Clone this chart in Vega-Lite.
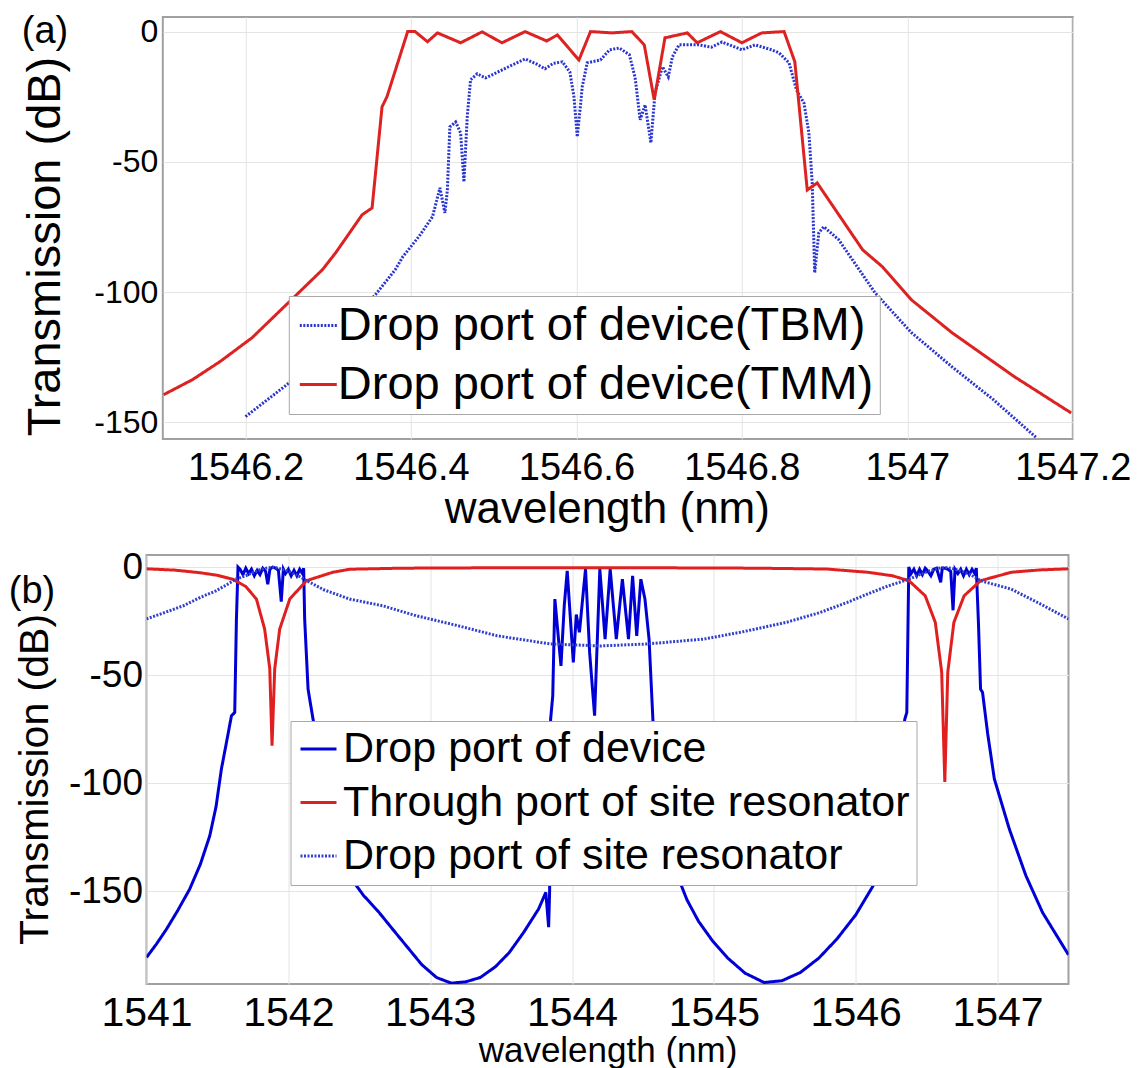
{
  "$schema": "https://vega.github.io/schema/vega-lite/v6.json",
  "background": "white",
  "padding": {"left": 7.5, "top": 11, "right": 0, "bottom": 0},
  "spacing": 15,
  "resolve": {"scale": {"color": "independent", "strokeDash": "independent"}},
  "config": {
    "font": "Liberation Sans",
    "view": {"stroke": "#a0a0a0", "strokeWidth": 2},
    "axis": {"domain": false, "ticks": false, "grid": true, "gridColor": "#e4e4e4", "gridWidth": 1, "labelColor": "#000000", "titleColor": "#000000", "titleFontWeight": "normal", "labelFlush": false, "labelOverlap": false, "labelFont": "Liberation Sans", "titleFont": "Liberation Sans"},
    "title": {"font": "Liberation Sans", "fontWeight": "normal", "color": "#000000", "anchor": "start", "frame": "group", "offset": 0},
    "legend": {"labelFont": "Liberation Sans", "labelColor": "#000000", "fillColor": "white", "strokeColor": "#a8a8a8", "symbolType": "stroke", "symbolStrokeWidth": 3, "labelLimit": 2000, "orient": "none"}
  },
  "datasets": {
    "a": [
      {"wavelength": 1546.200, "transmission": -147.8, "series": "Drop port of device(TBM)"},
      {"wavelength": 1546.253, "transmission": -134.8, "series": "Drop port of device(TBM)"},
      {"wavelength": 1546.300, "transmission": -119.5, "series": "Drop port of device(TBM)"},
      {"wavelength": 1546.357, "transmission": -101.0, "series": "Drop port of device(TBM)"},
      {"wavelength": 1546.381, "transmission": -91.4, "series": "Drop port of device(TBM)"},
      {"wavelength": 1546.390, "transmission": -86.5, "series": "Drop port of device(TBM)"},
      {"wavelength": 1546.410, "transmission": -78.5, "series": "Drop port of device(TBM)"},
      {"wavelength": 1546.426, "transmission": -71.1, "series": "Drop port of device(TBM)"},
      {"wavelength": 1546.435, "transmission": -60.0, "series": "Drop port of device(TBM)"},
      {"wavelength": 1546.441, "transmission": -69.6, "series": "Drop port of device(TBM)"},
      {"wavelength": 1546.444, "transmission": -60.8, "series": "Drop port of device(TBM)"},
      {"wavelength": 1546.447, "transmission": -36.6, "series": "Drop port of device(TBM)"},
      {"wavelength": 1546.454, "transmission": -34.7, "series": "Drop port of device(TBM)"},
      {"wavelength": 1546.460, "transmission": -38.9, "series": "Drop port of device(TBM)"},
      {"wavelength": 1546.464, "transmission": -57.7, "series": "Drop port of device(TBM)"},
      {"wavelength": 1546.468, "transmission": -32.7, "series": "Drop port of device(TBM)"},
      {"wavelength": 1546.472, "transmission": -18.5, "series": "Drop port of device(TBM)"},
      {"wavelength": 1546.480, "transmission": -16.2, "series": "Drop port of device(TBM)"},
      {"wavelength": 1546.490, "transmission": -17.8, "series": "Drop port of device(TBM)"},
      {"wavelength": 1546.498, "transmission": -16.6, "series": "Drop port of device(TBM)"},
      {"wavelength": 1546.518, "transmission": -13.5, "series": "Drop port of device(TBM)"},
      {"wavelength": 1546.538, "transmission": -10.5, "series": "Drop port of device(TBM)"},
      {"wavelength": 1546.552, "transmission": -12.5, "series": "Drop port of device(TBM)"},
      {"wavelength": 1546.562, "transmission": -14.3, "series": "Drop port of device(TBM)"},
      {"wavelength": 1546.572, "transmission": -12.2, "series": "Drop port of device(TBM)"},
      {"wavelength": 1546.583, "transmission": -11.6, "series": "Drop port of device(TBM)"},
      {"wavelength": 1546.592, "transmission": -15.5, "series": "Drop port of device(TBM)"},
      {"wavelength": 1546.597, "transmission": -25.0, "series": "Drop port of device(TBM)"},
      {"wavelength": 1546.601, "transmission": -40.4, "series": "Drop port of device(TBM)"},
      {"wavelength": 1546.605, "transmission": -28.0, "series": "Drop port of device(TBM)"},
      {"wavelength": 1546.607, "transmission": -21.2, "series": "Drop port of device(TBM)"},
      {"wavelength": 1546.613, "transmission": -12.0, "series": "Drop port of device(TBM)"},
      {"wavelength": 1546.629, "transmission": -10.9, "series": "Drop port of device(TBM)"},
      {"wavelength": 1546.640, "transmission": -7.0, "series": "Drop port of device(TBM)"},
      {"wavelength": 1546.652, "transmission": -6.3, "series": "Drop port of device(TBM)"},
      {"wavelength": 1546.664, "transmission": -8.9, "series": "Drop port of device(TBM)"},
      {"wavelength": 1546.671, "transmission": -17.8, "series": "Drop port of device(TBM)"},
      {"wavelength": 1546.677, "transmission": -33.9, "series": "Drop port of device(TBM)"},
      {"wavelength": 1546.683, "transmission": -28.1, "series": "Drop port of device(TBM)"},
      {"wavelength": 1546.690, "transmission": -42.7, "series": "Drop port of device(TBM)"},
      {"wavelength": 1546.695, "transmission": -23.5, "series": "Drop port of device(TBM)"},
      {"wavelength": 1546.704, "transmission": -13.5, "series": "Drop port of device(TBM)"},
      {"wavelength": 1546.711, "transmission": -17.4, "series": "Drop port of device(TBM)"},
      {"wavelength": 1546.716, "transmission": -9.7, "series": "Drop port of device(TBM)"},
      {"wavelength": 1546.724, "transmission": -5.1, "series": "Drop port of device(TBM)"},
      {"wavelength": 1546.748, "transmission": -5.1, "series": "Drop port of device(TBM)"},
      {"wavelength": 1546.763, "transmission": -6.0, "series": "Drop port of device(TBM)"},
      {"wavelength": 1546.776, "transmission": -4.0, "series": "Drop port of device(TBM)"},
      {"wavelength": 1546.800, "transmission": -7.0, "series": "Drop port of device(TBM)"},
      {"wavelength": 1546.816, "transmission": -5.1, "series": "Drop port of device(TBM)"},
      {"wavelength": 1546.836, "transmission": -7.0, "series": "Drop port of device(TBM)"},
      {"wavelength": 1546.845, "transmission": -8.2, "series": "Drop port of device(TBM)"},
      {"wavelength": 1546.857, "transmission": -12.0, "series": "Drop port of device(TBM)"},
      {"wavelength": 1546.866, "transmission": -22.4, "series": "Drop port of device(TBM)"},
      {"wavelength": 1546.875, "transmission": -27.4, "series": "Drop port of device(TBM)"},
      {"wavelength": 1546.881, "transmission": -38.9, "series": "Drop port of device(TBM)"},
      {"wavelength": 1546.885, "transmission": -58.1, "series": "Drop port of device(TBM)"},
      {"wavelength": 1546.888, "transmission": -92.6, "series": "Drop port of device(TBM)"},
      {"wavelength": 1546.893, "transmission": -77.2, "series": "Drop port of device(TBM)"},
      {"wavelength": 1546.899, "transmission": -74.9, "series": "Drop port of device(TBM)"},
      {"wavelength": 1546.917, "transmission": -79.9, "series": "Drop port of device(TBM)"},
      {"wavelength": 1546.961, "transmission": -100.3, "series": "Drop port of device(TBM)"},
      {"wavelength": 1547.005, "transmission": -115.6, "series": "Drop port of device(TBM)"},
      {"wavelength": 1547.054, "transmission": -128.7, "series": "Drop port of device(TBM)"},
      {"wavelength": 1547.104, "transmission": -141.3, "series": "Drop port of device(TBM)"},
      {"wavelength": 1547.156, "transmission": -155.9, "series": "Drop port of device(TBM)"},
      {"wavelength": 1546.101, "transmission": -139.4, "series": "Drop port of device(TMM)"},
      {"wavelength": 1546.136, "transmission": -133.6, "series": "Drop port of device(TMM)"},
      {"wavelength": 1546.170, "transmission": -126.5, "series": "Drop port of device(TMM)"},
      {"wavelength": 1546.208, "transmission": -117.5, "series": "Drop port of device(TMM)"},
      {"wavelength": 1546.253, "transmission": -103.7, "series": "Drop port of device(TMM)"},
      {"wavelength": 1546.293, "transmission": -91.4, "series": "Drop port of device(TMM)"},
      {"wavelength": 1546.309, "transmission": -84.9, "series": "Drop port of device(TMM)"},
      {"wavelength": 1546.341, "transmission": -70.3, "series": "Drop port of device(TMM)"},
      {"wavelength": 1546.353, "transmission": -67.7, "series": "Drop port of device(TMM)"},
      {"wavelength": 1546.365, "transmission": -28.9, "series": "Drop port of device(TMM)"},
      {"wavelength": 1546.371, "transmission": -25.0, "series": "Drop port of device(TMM)"},
      {"wavelength": 1546.384, "transmission": -12.0, "series": "Drop port of device(TMM)"},
      {"wavelength": 1546.396, "transmission": 0.0, "series": "Drop port of device(TMM)"},
      {"wavelength": 1546.405, "transmission": 0.0, "series": "Drop port of device(TMM)"},
      {"wavelength": 1546.420, "transmission": -3.9, "series": "Drop port of device(TMM)"},
      {"wavelength": 1546.432, "transmission": -0.5, "series": "Drop port of device(TMM)"},
      {"wavelength": 1546.460, "transmission": -4.3, "series": "Drop port of device(TMM)"},
      {"wavelength": 1546.486, "transmission": -0.1, "series": "Drop port of device(TMM)"},
      {"wavelength": 1546.510, "transmission": -4.3, "series": "Drop port of device(TMM)"},
      {"wavelength": 1546.538, "transmission": 0.0, "series": "Drop port of device(TMM)"},
      {"wavelength": 1546.564, "transmission": -3.6, "series": "Drop port of device(TMM)"},
      {"wavelength": 1546.577, "transmission": -1.3, "series": "Drop port of device(TMM)"},
      {"wavelength": 1546.603, "transmission": -10.9, "series": "Drop port of device(TMM)"},
      {"wavelength": 1546.617, "transmission": 0.0, "series": "Drop port of device(TMM)"},
      {"wavelength": 1546.643, "transmission": -0.5, "series": "Drop port of device(TMM)"},
      {"wavelength": 1546.667, "transmission": 0.0, "series": "Drop port of device(TMM)"},
      {"wavelength": 1546.682, "transmission": -5.1, "series": "Drop port of device(TMM)"},
      {"wavelength": 1546.694, "transmission": -26.2, "series": "Drop port of device(TMM)"},
      {"wavelength": 1546.707, "transmission": -2.4, "series": "Drop port of device(TMM)"},
      {"wavelength": 1546.734, "transmission": -0.5, "series": "Drop port of device(TMM)"},
      {"wavelength": 1546.746, "transmission": -4.3, "series": "Drop port of device(TMM)"},
      {"wavelength": 1546.774, "transmission": 0.0, "series": "Drop port of device(TMM)"},
      {"wavelength": 1546.800, "transmission": -4.3, "series": "Drop port of device(TMM)"},
      {"wavelength": 1546.824, "transmission": -0.5, "series": "Drop port of device(TMM)"},
      {"wavelength": 1546.851, "transmission": 0.0, "series": "Drop port of device(TMM)"},
      {"wavelength": 1546.864, "transmission": -11.6, "series": "Drop port of device(TMM)"},
      {"wavelength": 1546.879, "transmission": -60.8, "series": "Drop port of device(TMM)"},
      {"wavelength": 1546.891, "transmission": -58.1, "series": "Drop port of device(TMM)"},
      {"wavelength": 1546.946, "transmission": -83.8, "series": "Drop port of device(TMM)"},
      {"wavelength": 1546.970, "transmission": -90.3, "series": "Drop port of device(TMM)"},
      {"wavelength": 1547.005, "transmission": -103.0, "series": "Drop port of device(TMM)"},
      {"wavelength": 1547.054, "transmission": -115.6, "series": "Drop port of device(TMM)"},
      {"wavelength": 1547.129, "transmission": -132.4, "series": "Drop port of device(TMM)"},
      {"wavelength": 1547.198, "transmission": -146.4, "series": "Drop port of device(TMM)"}
    ],
    "b": [
      {"wavelength": 1541.000, "transmission": -180.7, "series": "Drop port of device"},
      {"wavelength": 1541.070, "transmission": -174.5, "series": "Drop port of device"},
      {"wavelength": 1541.141, "transmission": -167.6, "series": "Drop port of device"},
      {"wavelength": 1541.220, "transmission": -159.0, "series": "Drop port of device"},
      {"wavelength": 1541.305, "transmission": -149.0, "series": "Drop port of device"},
      {"wavelength": 1541.380, "transmission": -137.5, "series": "Drop port of device"},
      {"wavelength": 1541.446, "transmission": -124.4, "series": "Drop port of device"},
      {"wavelength": 1541.490, "transmission": -111.0, "series": "Drop port of device"},
      {"wavelength": 1541.528, "transmission": -93.5, "series": "Drop port of device"},
      {"wavelength": 1541.570, "transmission": -79.0, "series": "Drop port of device"},
      {"wavelength": 1541.599, "transmission": -68.8, "series": "Drop port of device"},
      {"wavelength": 1541.622, "transmission": -67.3, "series": "Drop port of device"},
      {"wavelength": 1541.634, "transmission": -24.0, "series": "Drop port of device"},
      {"wavelength": 1541.645, "transmission": 0.0, "series": "Drop port of device"},
      {"wavelength": 1541.660, "transmission": -1.0, "series": "Drop port of device"},
      {"wavelength": 1541.680, "transmission": -3.5, "series": "Drop port of device"},
      {"wavelength": 1541.700, "transmission": -0.5, "series": "Drop port of device"},
      {"wavelength": 1541.720, "transmission": -3.0, "series": "Drop port of device"},
      {"wavelength": 1541.740, "transmission": -1.0, "series": "Drop port of device"},
      {"wavelength": 1541.760, "transmission": -4.0, "series": "Drop port of device"},
      {"wavelength": 1541.780, "transmission": -1.5, "series": "Drop port of device"},
      {"wavelength": 1541.800, "transmission": -3.5, "series": "Drop port of device"},
      {"wavelength": 1541.820, "transmission": -0.5, "series": "Drop port of device"},
      {"wavelength": 1541.840, "transmission": -2.0, "series": "Drop port of device"},
      {"wavelength": 1541.855, "transmission": -8.0, "series": "Drop port of device"},
      {"wavelength": 1541.870, "transmission": -1.0, "series": "Drop port of device"},
      {"wavelength": 1541.890, "transmission": 0.0, "series": "Drop port of device"},
      {"wavelength": 1541.910, "transmission": -0.5, "series": "Drop port of device"},
      {"wavelength": 1541.930, "transmission": -1.5, "series": "Drop port of device"},
      {"wavelength": 1541.950, "transmission": -16.0, "series": "Drop port of device"},
      {"wavelength": 1541.965, "transmission": -1.0, "series": "Drop port of device"},
      {"wavelength": 1541.980, "transmission": -3.0, "series": "Drop port of device"},
      {"wavelength": 1542.000, "transmission": -1.0, "series": "Drop port of device"},
      {"wavelength": 1542.020, "transmission": -4.0, "series": "Drop port of device"},
      {"wavelength": 1542.040, "transmission": -1.5, "series": "Drop port of device"},
      {"wavelength": 1542.060, "transmission": -4.0, "series": "Drop port of device"},
      {"wavelength": 1542.080, "transmission": -1.0, "series": "Drop port of device"},
      {"wavelength": 1542.100, "transmission": -3.0, "series": "Drop port of device"},
      {"wavelength": 1542.108, "transmission": -0.5, "series": "Drop port of device"},
      {"wavelength": 1542.115, "transmission": -24.0, "series": "Drop port of device"},
      {"wavelength": 1542.139, "transmission": -56.5, "series": "Drop port of device"},
      {"wavelength": 1542.174, "transmission": -70.4, "series": "Drop port of device"},
      {"wavelength": 1542.220, "transmission": -85.0, "series": "Drop port of device"},
      {"wavelength": 1542.280, "transmission": -104.0, "series": "Drop port of device"},
      {"wavelength": 1542.350, "transmission": -125.0, "series": "Drop port of device"},
      {"wavelength": 1542.430, "transmission": -143.0, "series": "Drop port of device"},
      {"wavelength": 1542.530, "transmission": -152.0, "series": "Drop port of device"},
      {"wavelength": 1542.635, "transmission": -159.5, "series": "Drop port of device"},
      {"wavelength": 1542.740, "transmission": -168.0, "series": "Drop port of device"},
      {"wavelength": 1542.840, "transmission": -176.0, "series": "Drop port of device"},
      {"wavelength": 1542.940, "transmission": -184.0, "series": "Drop port of device"},
      {"wavelength": 1543.045, "transmission": -190.0, "series": "Drop port of device"},
      {"wavelength": 1543.148, "transmission": -192.6, "series": "Drop port of device"},
      {"wavelength": 1543.250, "transmission": -192.0, "series": "Drop port of device"},
      {"wavelength": 1543.353, "transmission": -190.0, "series": "Drop port of device"},
      {"wavelength": 1543.460, "transmission": -185.0, "series": "Drop port of device"},
      {"wavelength": 1543.558, "transmission": -178.4, "series": "Drop port of device"},
      {"wavelength": 1543.660, "transmission": -169.0, "series": "Drop port of device"},
      {"wavelength": 1543.764, "transmission": -158.3, "series": "Drop port of device"},
      {"wavelength": 1543.815, "transmission": -150.6, "series": "Drop port of device"},
      {"wavelength": 1543.835, "transmission": -166.7, "series": "Drop port of device"},
      {"wavelength": 1543.842, "transmission": -150.0, "series": "Drop port of device"},
      {"wavelength": 1543.849, "transmission": -70.4, "series": "Drop port of device"},
      {"wavelength": 1543.864, "transmission": -59.6, "series": "Drop port of device"},
      {"wavelength": 1543.879, "transmission": -14.8, "series": "Drop port of device"},
      {"wavelength": 1543.900, "transmission": -30.0, "series": "Drop port of device"},
      {"wavelength": 1543.922, "transmission": -45.7, "series": "Drop port of device"},
      {"wavelength": 1543.945, "transmission": -18.0, "series": "Drop port of device"},
      {"wavelength": 1543.966, "transmission": -1.7, "series": "Drop port of device"},
      {"wavelength": 1544.009, "transmission": -44.1, "series": "Drop port of device"},
      {"wavelength": 1544.030, "transmission": -22.0, "series": "Drop port of device"},
      {"wavelength": 1544.052, "transmission": -30.2, "series": "Drop port of device"},
      {"wavelength": 1544.095, "transmission": -0.9, "series": "Drop port of device"},
      {"wavelength": 1544.124, "transmission": -39.5, "series": "Drop port of device"},
      {"wavelength": 1544.159, "transmission": -68.8, "series": "Drop port of device"},
      {"wavelength": 1544.196, "transmission": -0.9, "series": "Drop port of device"},
      {"wavelength": 1544.233, "transmission": -33.3, "series": "Drop port of device"},
      {"wavelength": 1544.269, "transmission": -0.9, "series": "Drop port of device"},
      {"wavelength": 1544.312, "transmission": -33.3, "series": "Drop port of device"},
      {"wavelength": 1544.355, "transmission": -5.6, "series": "Drop port of device"},
      {"wavelength": 1544.398, "transmission": -33.3, "series": "Drop port of device"},
      {"wavelength": 1544.427, "transmission": -4.0, "series": "Drop port of device"},
      {"wavelength": 1544.456, "transmission": -31.8, "series": "Drop port of device"},
      {"wavelength": 1544.485, "transmission": -5.6, "series": "Drop port of device"},
      {"wavelength": 1544.514, "transmission": -14.8, "series": "Drop port of device"},
      {"wavelength": 1544.543, "transmission": -33.3, "series": "Drop port of device"},
      {"wavelength": 1544.571, "transmission": -71.9, "series": "Drop port of device"},
      {"wavelength": 1544.620, "transmission": -95.0, "series": "Drop port of device"},
      {"wavelength": 1544.680, "transmission": -122.0, "series": "Drop port of device"},
      {"wavelength": 1544.738, "transmission": -142.0, "series": "Drop port of device"},
      {"wavelength": 1544.810, "transmission": -154.0, "series": "Drop port of device"},
      {"wavelength": 1544.892, "transmission": -164.0, "series": "Drop port of device"},
      {"wavelength": 1544.990, "transmission": -173.0, "series": "Drop port of device"},
      {"wavelength": 1545.098, "transmission": -181.0, "series": "Drop port of device"},
      {"wavelength": 1545.220, "transmission": -188.0, "series": "Drop port of device"},
      {"wavelength": 1545.354, "transmission": -192.3, "series": "Drop port of device"},
      {"wavelength": 1545.480, "transmission": -191.5, "series": "Drop port of device"},
      {"wavelength": 1545.611, "transmission": -187.6, "series": "Drop port of device"},
      {"wavelength": 1545.740, "transmission": -181.0, "series": "Drop port of device"},
      {"wavelength": 1545.867, "transmission": -172.2, "series": "Drop port of device"},
      {"wavelength": 1546.000, "transmission": -161.0, "series": "Drop port of device"},
      {"wavelength": 1546.123, "transmission": -147.5, "series": "Drop port of device"},
      {"wavelength": 1546.200, "transmission": -130.0, "series": "Drop port of device"},
      {"wavelength": 1546.270, "transmission": -105.0, "series": "Drop port of device"},
      {"wavelength": 1546.320, "transmission": -83.0, "series": "Drop port of device"},
      {"wavelength": 1546.346, "transmission": -70.4, "series": "Drop port of device"},
      {"wavelength": 1546.360, "transmission": -67.3, "series": "Drop port of device"},
      {"wavelength": 1546.374, "transmission": 0.0, "series": "Drop port of device"},
      {"wavelength": 1546.390, "transmission": -3.0, "series": "Drop port of device"},
      {"wavelength": 1546.410, "transmission": -1.0, "series": "Drop port of device"},
      {"wavelength": 1546.430, "transmission": -4.0, "series": "Drop port of device"},
      {"wavelength": 1546.450, "transmission": -1.0, "series": "Drop port of device"},
      {"wavelength": 1546.470, "transmission": -3.5, "series": "Drop port of device"},
      {"wavelength": 1546.490, "transmission": -0.5, "series": "Drop port of device"},
      {"wavelength": 1546.510, "transmission": -2.0, "series": "Drop port of device"},
      {"wavelength": 1546.530, "transmission": -4.0, "series": "Drop port of device"},
      {"wavelength": 1546.550, "transmission": -1.0, "series": "Drop port of device"},
      {"wavelength": 1546.570, "transmission": -0.5, "series": "Drop port of device"},
      {"wavelength": 1546.599, "transmission": -7.0, "series": "Drop port of device"},
      {"wavelength": 1546.610, "transmission": -0.5, "series": "Drop port of device"},
      {"wavelength": 1546.630, "transmission": -0.5, "series": "Drop port of device"},
      {"wavelength": 1546.650, "transmission": -1.0, "series": "Drop port of device"},
      {"wavelength": 1546.670, "transmission": -2.0, "series": "Drop port of device"},
      {"wavelength": 1546.686, "transmission": -20.0, "series": "Drop port of device"},
      {"wavelength": 1546.700, "transmission": -1.0, "series": "Drop port of device"},
      {"wavelength": 1546.720, "transmission": -3.0, "series": "Drop port of device"},
      {"wavelength": 1546.740, "transmission": -1.0, "series": "Drop port of device"},
      {"wavelength": 1546.760, "transmission": -4.0, "series": "Drop port of device"},
      {"wavelength": 1546.780, "transmission": -1.0, "series": "Drop port of device"},
      {"wavelength": 1546.800, "transmission": -3.5, "series": "Drop port of device"},
      {"wavelength": 1546.820, "transmission": -1.0, "series": "Drop port of device"},
      {"wavelength": 1546.840, "transmission": -3.0, "series": "Drop port of device"},
      {"wavelength": 1546.850, "transmission": -0.5, "series": "Drop port of device"},
      {"wavelength": 1546.865, "transmission": -25.6, "series": "Drop port of device"},
      {"wavelength": 1546.880, "transmission": -56.5, "series": "Drop port of device"},
      {"wavelength": 1546.894, "transmission": -58.0, "series": "Drop port of device"},
      {"wavelength": 1546.930, "transmission": -77.0, "series": "Drop port of device"},
      {"wavelength": 1546.977, "transmission": -98.0, "series": "Drop port of device"},
      {"wavelength": 1547.083, "transmission": -121.3, "series": "Drop port of device"},
      {"wavelength": 1547.200, "transmission": -142.9, "series": "Drop port of device"},
      {"wavelength": 1547.317, "transmission": -159.9, "series": "Drop port of device"},
      {"wavelength": 1547.500, "transmission": -179.5, "series": "Drop port of device"},
      {"wavelength": 1541.000, "transmission": -0.8, "series": "Through port of site resonator"},
      {"wavelength": 1541.200, "transmission": -1.4, "series": "Through port of site resonator"},
      {"wavelength": 1541.376, "transmission": -2.6, "series": "Through port of site resonator"},
      {"wavelength": 1541.500, "transmission": -3.8, "series": "Through port of site resonator"},
      {"wavelength": 1541.608, "transmission": -5.6, "series": "Through port of site resonator"},
      {"wavelength": 1541.700, "transmission": -9.0, "series": "Through port of site resonator"},
      {"wavelength": 1541.775, "transmission": -14.8, "series": "Through port of site resonator"},
      {"wavelength": 1541.833, "transmission": -28.7, "series": "Through port of site resonator"},
      {"wavelength": 1541.869, "transmission": -47.0, "series": "Through port of site resonator"},
      {"wavelength": 1541.885, "transmission": -82.7, "series": "Through port of site resonator"},
      {"wavelength": 1541.904, "transmission": -47.0, "series": "Through port of site resonator"},
      {"wavelength": 1541.939, "transmission": -28.7, "series": "Through port of site resonator"},
      {"wavelength": 1542.010, "transmission": -14.8, "series": "Through port of site resonator"},
      {"wavelength": 1542.127, "transmission": -6.3, "series": "Through port of site resonator"},
      {"wavelength": 1542.313, "transmission": -2.4, "series": "Through port of site resonator"},
      {"wavelength": 1542.432, "transmission": -1.0, "series": "Through port of site resonator"},
      {"wavelength": 1542.800, "transmission": -0.5, "series": "Through port of site resonator"},
      {"wavelength": 1543.500, "transmission": -0.3, "series": "Through port of site resonator"},
      {"wavelength": 1544.500, "transmission": -0.3, "series": "Through port of site resonator"},
      {"wavelength": 1545.300, "transmission": -0.5, "series": "Through port of site resonator"},
      {"wavelength": 1545.797, "transmission": -0.9, "series": "Through port of site resonator"},
      {"wavelength": 1546.086, "transmission": -2.4, "series": "Through port of site resonator"},
      {"wavelength": 1546.258, "transmission": -4.0, "series": "Through port of site resonator"},
      {"wavelength": 1546.375, "transmission": -6.3, "series": "Through port of site resonator"},
      {"wavelength": 1546.490, "transmission": -13.3, "series": "Through port of site resonator"},
      {"wavelength": 1546.561, "transmission": -25.6, "series": "Through port of site resonator"},
      {"wavelength": 1546.606, "transmission": -48.6, "series": "Through port of site resonator"},
      {"wavelength": 1546.628, "transmission": -99.5, "series": "Through port of site resonator"},
      {"wavelength": 1546.649, "transmission": -48.6, "series": "Through port of site resonator"},
      {"wavelength": 1546.692, "transmission": -25.6, "series": "Through port of site resonator"},
      {"wavelength": 1546.764, "transmission": -13.3, "series": "Through port of site resonator"},
      {"wavelength": 1546.880, "transmission": -6.3, "series": "Through port of site resonator"},
      {"wavelength": 1547.096, "transmission": -2.4, "series": "Through port of site resonator"},
      {"wavelength": 1547.300, "transmission": -1.3, "series": "Through port of site resonator"},
      {"wavelength": 1547.500, "transmission": -0.8, "series": "Through port of site resonator"},
      {"wavelength": 1541.000, "transmission": -24.0, "series": "Drop port of site resonator"},
      {"wavelength": 1541.130, "transmission": -21.0, "series": "Drop port of site resonator"},
      {"wavelength": 1541.260, "transmission": -17.9, "series": "Drop port of site resonator"},
      {"wavelength": 1541.380, "transmission": -14.0, "series": "Drop port of site resonator"},
      {"wavelength": 1541.490, "transmission": -11.0, "series": "Drop port of site resonator"},
      {"wavelength": 1541.570, "transmission": -8.0, "series": "Drop port of site resonator"},
      {"wavelength": 1541.630, "transmission": -5.6, "series": "Drop port of site resonator"},
      {"wavelength": 1541.700, "transmission": -4.0, "series": "Drop port of site resonator"},
      {"wavelength": 1541.750, "transmission": -2.5, "series": "Drop port of site resonator"},
      {"wavelength": 1541.800, "transmission": -1.2, "series": "Drop port of site resonator"},
      {"wavelength": 1541.850, "transmission": -0.4, "series": "Drop port of site resonator"},
      {"wavelength": 1541.885, "transmission": -0.1, "series": "Drop port of site resonator"},
      {"wavelength": 1541.920, "transmission": -0.4, "series": "Drop port of site resonator"},
      {"wavelength": 1541.970, "transmission": -1.2, "series": "Drop port of site resonator"},
      {"wavelength": 1542.020, "transmission": -2.5, "series": "Drop port of site resonator"},
      {"wavelength": 1542.070, "transmission": -4.0, "series": "Drop port of site resonator"},
      {"wavelength": 1542.122, "transmission": -6.0, "series": "Drop port of site resonator"},
      {"wavelength": 1542.250, "transmission": -10.5, "series": "Drop port of site resonator"},
      {"wavelength": 1542.432, "transmission": -14.8, "series": "Drop port of site resonator"},
      {"wavelength": 1542.665, "transmission": -17.9, "series": "Drop port of site resonator"},
      {"wavelength": 1542.900, "transmission": -22.5, "series": "Drop port of site resonator"},
      {"wavelength": 1543.200, "transmission": -27.2, "series": "Drop port of site resonator"},
      {"wavelength": 1543.472, "transmission": -31.8, "series": "Drop port of site resonator"},
      {"wavelength": 1543.849, "transmission": -35.6, "series": "Drop port of site resonator"},
      {"wavelength": 1544.200, "transmission": -36.5, "series": "Drop port of site resonator"},
      {"wavelength": 1544.528, "transmission": -35.6, "series": "Drop port of site resonator"},
      {"wavelength": 1544.932, "transmission": -33.3, "series": "Drop port of site resonator"},
      {"wavelength": 1545.200, "transmission": -30.0, "series": "Drop port of site resonator"},
      {"wavelength": 1545.509, "transmission": -25.6, "series": "Drop port of site resonator"},
      {"wavelength": 1545.750, "transmission": -21.0, "series": "Drop port of site resonator"},
      {"wavelength": 1545.941, "transmission": -16.3, "series": "Drop port of site resonator"},
      {"wavelength": 1546.100, "transmission": -12.0, "series": "Drop port of site resonator"},
      {"wavelength": 1546.230, "transmission": -8.7, "series": "Drop port of site resonator"},
      {"wavelength": 1546.375, "transmission": -5.6, "series": "Drop port of site resonator"},
      {"wavelength": 1546.450, "transmission": -3.5, "series": "Drop port of site resonator"},
      {"wavelength": 1546.520, "transmission": -1.8, "series": "Drop port of site resonator"},
      {"wavelength": 1546.580, "transmission": -0.6, "series": "Drop port of site resonator"},
      {"wavelength": 1546.628, "transmission": -0.1, "series": "Drop port of site resonator"},
      {"wavelength": 1546.680, "transmission": -0.6, "series": "Drop port of site resonator"},
      {"wavelength": 1546.740, "transmission": -1.8, "series": "Drop port of site resonator"},
      {"wavelength": 1546.810, "transmission": -3.5, "series": "Drop port of site resonator"},
      {"wavelength": 1546.880, "transmission": -6.3, "series": "Drop port of site resonator"},
      {"wavelength": 1547.096, "transmission": -10.2, "series": "Drop port of site resonator"},
      {"wavelength": 1547.300, "transmission": -17.0, "series": "Drop port of site resonator"},
      {"wavelength": 1547.500, "transmission": -24.0, "series": "Drop port of site resonator"}
    ]
  },
  "vconcat": [
    {
      "resolve": {"scale": {"color": "independent", "strokeDash": "independent"}},
      "spacing": -127.7,
      "hconcat": [
        {
          "width": 1,
          "height": 1,
          "view": {"stroke": null},
          "data": {"values": []},
          "mark": "point"
        },
        {
          "width": 910,
          "height": 422,
          "title": {"text": "(a)", "fontSize": 38, "dx": -141, "dy": 39},
          "data": {"name": "a"},
          "mark": {"type": "line", "clip": true, "strokeWidth": 3},
          "encoding": {
            "x": {"field": "wavelength", "type": "quantitative",
                  "scale": {"domain": [1546.1, 1547.2], "nice": false, "zero": false},
                  "axis": {"values": [1546.2, 1546.4, 1546.6, 1546.8, 1547, 1547.2], "format": ".5~r", "title": "wavelength (nm)", "labelFontSize": 38, "titleFontSize": 44, "labelPadding": 10, "titlePadding": 0, "titleX": 444}},
            "y": {"field": "transmission", "type": "quantitative",
                  "scale": {"domain": [-156.4, 5.6], "nice": false, "zero": false},
                  "axis": {"values": [-150, -100, -50, 0], "labelExpr": "'' + datum.value", "title": "Transmission (dB)", "labelFontSize": 32, "titleFontSize": 47, "labelPadding": 5, "titlePadding": 24, "titleY": 229}},
            "color": {"field": "series", "type": "nominal",
                      "scale": {"domain": ["Drop port of device(TBM)", "Drop port of device(TMM)"], "range": ["#2a35d0", "#dd2222"]},
                      "legend": {"title": null, "orient": "none", "legendX": 126, "legendY": 279, "padding": 6, "symbolSize": 1369, "labelFontSize": 47, "labelOffset": -4, "rowPadding": 11}},
            "strokeDash": {"field": "series", "type": "nominal",
                      "scale": {"domain": ["Drop port of device(TBM)", "Drop port of device(TMM)"], "range": [[2, 1.5], [1, 0]]},
                      "legend": {"title": null, "orient": "none", "legendX": 126, "legendY": 279, "padding": 6, "symbolSize": 1369, "labelFontSize": 47, "labelOffset": -4, "rowPadding": 11}}
          }
        }
      ]
    },
    {
      "resolve": {"scale": {"color": "independent", "strokeDash": "independent"}},
      "hconcat": [
        {
          "width": 922,
          "height": 429,
          "title": {"text": "(b)", "fontSize": 38, "dx": -137.7, "dy": 67},
          "data": {"name": "b"},
          "mark": {"type": "line", "clip": true, "strokeWidth": 3},
          "encoding": {
            "x": {"field": "wavelength", "type": "quantitative",
                  "scale": {"domain": [1541, 1547.5], "nice": false, "zero": false},
                  "axis": {"values": [1541, 1542, 1543, 1544, 1545, 1546, 1547], "format": "d", "title": "wavelength (nm)", "labelFontSize": 41, "titleFontSize": 35, "labelPadding": 9, "titlePadding": 0}},
            "y": {"field": "transmission", "type": "quantitative",
                  "scale": {"domain": [-193, 5.6], "nice": false, "zero": false},
                  "axis": {"values": [-150, -100, -50, 0], "labelExpr": "'' + datum.value", "title": "Transmission (dB)", "labelFontSize": 37, "titleFontSize": 41, "labelPadding": 4, "titlePadding": 12, "titleY": 224}},
            "color": {"field": "series", "type": "nominal",
                      "scale": {"domain": ["Drop port of device", "Through port of site resonator", "Drop port of site resonator"], "range": ["#0000d6", "#e02020", "#3040cc"]},
                      "legend": {"title": null, "orient": "none", "legendX": 144, "legendY": 166, "padding": 6.5, "symbolSize": 1296, "labelFontSize": 43, "labelOffset": 3, "rowPadding": 9.5}},
            "strokeDash": {"field": "series", "type": "nominal",
                      "scale": {"domain": ["Drop port of device", "Through port of site resonator", "Drop port of site resonator"], "range": [[1, 0], [1, 0], [2, 1.5]]},
                      "legend": {"title": null, "orient": "none", "legendX": 144, "legendY": 166, "padding": 6.5, "symbolSize": 1296, "labelFontSize": 43, "labelOffset": 3, "rowPadding": 9.5}}
          }
        }
      ]
    }
  ]
}
